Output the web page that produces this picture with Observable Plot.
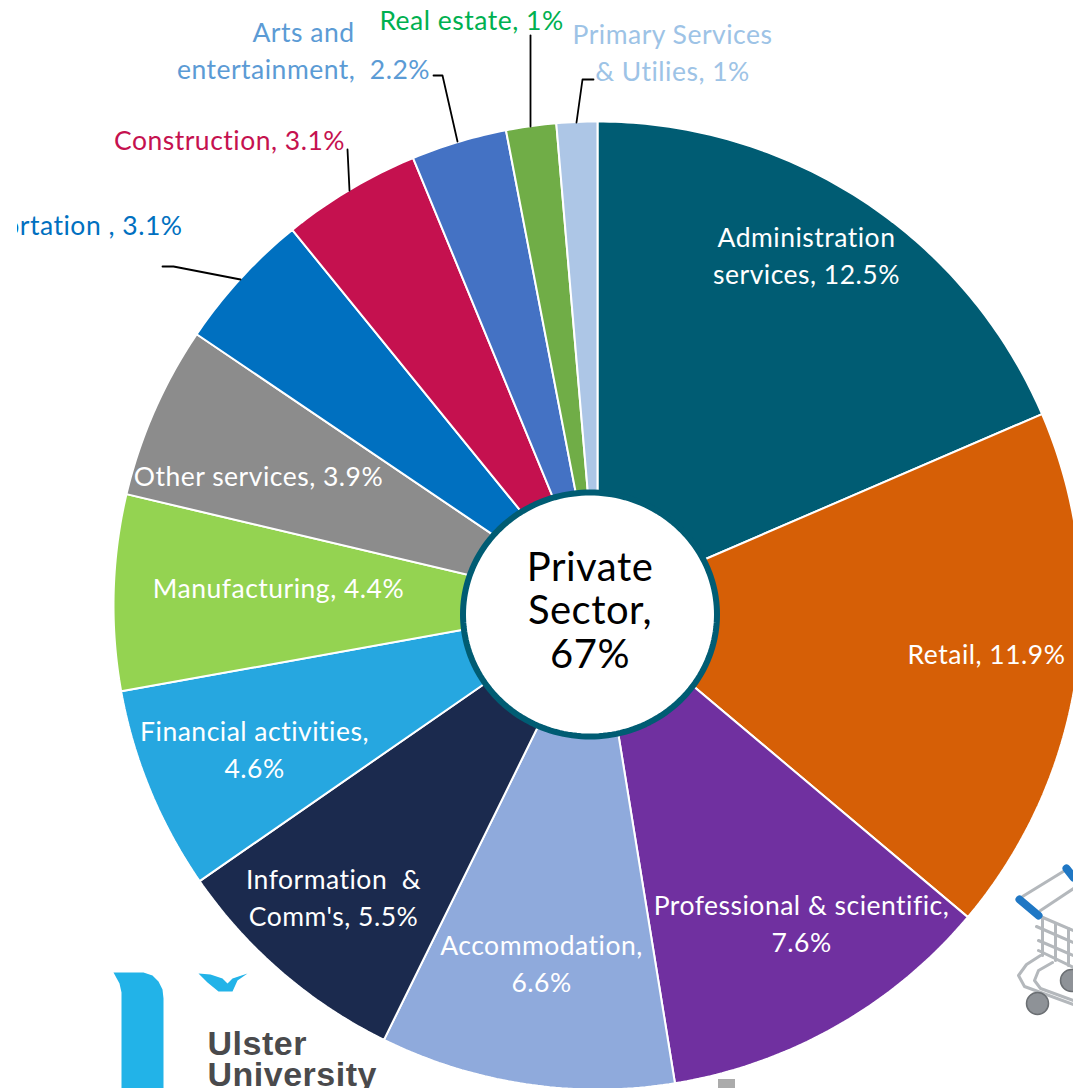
<!DOCTYPE html>
<html><head><meta charset="utf-8">
<style>html,body{margin:0;padding:0;background:#fff}svg{display:block}</style>
<script src="https://cdn.jsdelivr.net/npm/d3@7"></script>
<script src="https://cdn.jsdelivr.net/npm/@observablehq/plot@0.6"></script>
</head><body><div id="chart"></div>
<script>
// Data
const sectors = ["Administration services","Retail","Professional & scientific","Accommodation","Information & Comm's","Financial activities","Manufacturing","Other services","Transportation","Construction","Arts and entertainment","Real estate","Primary Services & Utilies"];
const shares = [12.42,11.8,7.58,6.59,5.42,4.56,4.38,3.87,3.13,3.11,2.14,1.12,0.91];
const sliceColors = ["#005C73","#D65F06","#7030A0","#8FAADC","#1B2A4E","#26A7E0","#94D351","#8C8C8C","#0070C0","#C5114F","#4472C4","#70AD47","#ADC6E6"];
const labelTexts = ["Administration\nservices, 12.5%","Retail, 11.9%","Professional & scientific,\n7.6%","Accommodation,\n6.6%","Information  &\nComm's, 5.5%","Financial activities,\n4.6%","Manufacturing, 4.4%","Other services, 3.9%","Transportation , 3.1%","Construction, 3.1%","Arts and\nentertainment,  2.2%","Real estate, 1%","Primary Services\n& Utilies, 1%"];
const labelColors = ["#fff","#fff","#fff","#fff","#fff","#fff","#fff","#fff","#0070C0","#C5114F","#5B9BD5","#00B050","#9DC3E6"];
const centerLabel = "Private\nSector,\n67%";

// Layout (chart units = pixels of the 1073x1088 frame)
const W = 1073, H = 1088;
const pieC = [597,605], pieR = 484;
const holeC = [589.5,614], holeR = [127,122];
const labelX = [806,986,801,541,333,254,278,258,182,229,303,471,672];
const labelY = [253,652,921,961,895,747,586,474,226,138,48,18,50];
const leaders = [
  [[433,75],[442,75],[457,141]],
  [[347,149],[349,190]],
  [[162,266],[173,266],[240,279]],
  [[530,35],[530,126]],
  [[593,79],[582,79],[576,122]]
];
const total = d3.sum(shares);
const polar = (c, rx, ry, a) => [c[0] + rx*Math.sin(a), c[1] - ry*Math.cos(a)];

// slice outlines from the values
const slicePts = [];
let acc = 0;
shares.forEach((v,i) => {
  const a0 = acc/total*2*Math.PI, a1 = (acc+v)/total*2*Math.PI;
  acc += v;
  const n = Math.max(8, Math.ceil((a1-a0)*80));
  const add = p => slicePts.push({name:sectors[i], x:p[0], y:p[1]});
  add(pieC);
  for (let k=0;k<=n;k++) add(polar(pieC,pieR,pieR,a0+(a1-a0)*k/n));
  add(pieC);
});
const holePts = d3.range(0,181).map(k => {
  const p = polar(holeC,holeR[0],holeR[1],k/180*2*Math.PI);
  return {x:p[0],y:p[1]};
});
const labels = labelTexts.map((t,i)=>({t,x:labelX[i],y:labelY[i],c:labelColors[i],anchor:i===8?"end":"middle"}));
const leaderPts = leaders.flatMap((l,i)=>l.map(p=>({id:i,x:p[0],y:p[1]})));

// decorative logo & trolley
const logoBar = [[113,972],[143,972],[152,975],[158,981],[162,989],[163,998],[163,1088],[121,1088],[121,992],[119,983]].map(p=>({x:p[0],y:p[1]}));
const logoBird = [[198,973],[210,974],[222,978],[227,983],[232,978],[247,973],[237,980],[232,991],[218,991],[207,982]].map(p=>({x:p[0],y:p[1]}));
const cartGrey = [
  [[1022,896],[1066,869]],[[1040,910],[1073,888]],
  [[1040,916],[1073,930]],[[1036,926],[1073,942]],[[1038,940],[1073,955]],[[1038,950],[1073,967]],
  [[1042,917],[1042,955]],[[1055,923],[1055,960]],[[1068,928],[1068,965]],
  [[1040,955],[1026,964],[1018,975],[1024,986],[1073,1004]],
  [[1052,962],[1038,970],[1034,980],[1040,988],[1073,1000]]
].flatMap((l,i)=>l.map(p=>({id:i,x:p[0],y:p[1]})));
const cartBlue = [[[1019,899],[1038,915]],[[1066,868],[1073,877]]].flatMap((l,i)=>l.map(p=>({id:i,x:p[0],y:p[1]})));
const cartWheels = [{x:1037,y:1003},{x:1071,y:980}];

const chart = Plot.plot({
  width:W, height:H, margin:0,
  x:{axis:null, domain:[0,W], range:[0,W]},
  y:{axis:null, domain:[0,H], range:[0,H]},
  color:{domain:sectors, range:sliceColors},
  style:{fontFamily:"Lato, 'Open Sans', sans-serif", background:"#fff", letterSpacing:"0.5px"},
  marks:[
    Plot.line(slicePts,{x:"x",y:"y",z:"name",fill:"name",stroke:"#fff",strokeWidth:2,curve:"linear",strokeLinejoin:"miter"}),
    Plot.line(holePts,{x:"x",y:"y",fill:"#fff",stroke:"#005C73",strokeWidth:6,curve:"linear"}),
    Plot.line(leaderPts,{x:"x",y:"y",z:"id",stroke:"#000",strokeWidth:1.8,curve:"linear"}),
    Plot.text(labels.filter(d=>d.anchor==="middle"),{x:"x",y:"y",text:"t",fill:{value:"c",scale:null},fontSize:26.5,lineHeight:1.4,lineAnchor:"middle",textAnchor:"middle"}),
    Plot.text(labels.filter(d=>d.anchor==="end"),{x:"x",y:"y",text:"t",fill:{value:"c",scale:null},fontSize:26.5,lineAnchor:"middle",textAnchor:"end"}),
    Plot.rect([{x1:0,x2:17,y1:205,y2:245}],{x1:"x1",x2:"x2",y1:"y1",y2:"y2",fill:"#fff"}),
    Plot.text([centerLabel],{x:holeC[0],y:610,text:d=>d,fill:"#000",fontSize:40,lineHeight:1.09,lineAnchor:"middle",textAnchor:"middle"}),
    // Ulster University logo
    Plot.line(logoBar,{x:"x",y:"y",fill:"#22B3E8",curve:"linear"}),
    Plot.line(logoBird,{x:"x",y:"y",fill:"#22B3E8",curve:"linear"}),
    Plot.text(["Ulster\nUniversity"],{x:207,y:1060,text:d=>d,fill:"#4A4A4C",fontFamily:"Liberation Sans",fontWeight:"bold",fontSize:34,lineHeight:0.93,lineAnchor:"middle",textAnchor:"start"}),
    // trolley
    Plot.line(cartGrey,{x:"x",y:"y",z:"id",stroke:"#B4B8BC",strokeWidth:3,curve:"linear"}),
    Plot.line(cartBlue,{x:"x",y:"y",z:"id",stroke:"#1F77C4",strokeWidth:8,curve:"linear"}),
    Plot.dot(cartWheels,{x:"x",y:"y",r:11,fill:"#8E9297",stroke:"#6B6F73"}),
    Plot.rect([{x1:718,x2:735,y1:1079,y2:1088}],{x1:"x1",x2:"x2",y1:"y1",y2:"y2",fill:"#ABABAB"})
  ]
});
document.getElementById("chart").append(chart);
</script></body></html>
